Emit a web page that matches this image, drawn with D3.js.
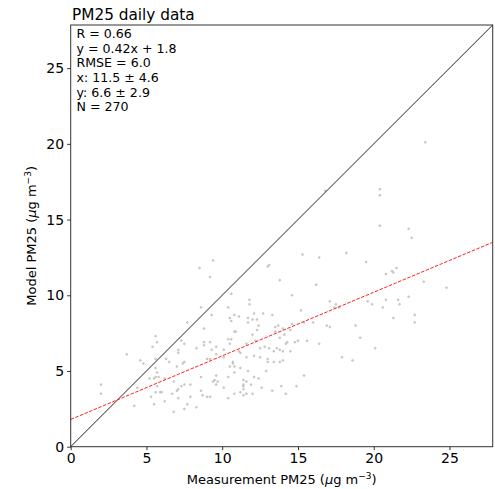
<!DOCTYPE html>
<html>
<head>
<meta charset="utf-8">
<script src="https://cdn.jsdelivr.net/npm/d3@7"></script>
<style>
  body { margin: 0; background: #fff; }
  text { font-family: "DejaVu Sans", sans-serif; fill: #000; }
</style>
</head>
<body>
<svg id="chart" width="495" height="489"></svg>
<script>
var measX = [23.4,20.4,20.4,20.4,22.3,22.5,19.5,21.5,21.2,21.3,20.8,23.3,24.8,22.3,20.8,21.6,
  9.4,8.5,9.2,13.1,13.0,15.3,16.4,18.2,13.8,16.2,10.6,16.8,
  17.1,17.5,17.4,17.7,19.6,19.9,21.7,20.6,21.3,22.7,22.7,16.9,17.1,18.8,19.1,20.1,17.9,18.6,
  14.6,15.2,14.6,15.4,16.0,14.0,14.5,13.5,14.1,13.8,15.0,14.8,15.6,14.3,14.2,16.4,13.8,14.0,14.5,13.8,14.0,15.4,13.9,14.9,14.2,
  8.6,11.8,11.8,10.4,9.3,7.7,10.8,11.1,10.5,10.6,12.1,12.7,11.7,12.0,12.3,11.7,12.4,13.3,8.8,10.8,10.9,13.5,13.7,12.0,12.3,
  10.4,10.6,10.5,11.6,12.2,8.8,9.2,9.6,8.8,9.3,8.3,10.1,11.1,11.2,12.5,12.8,13.1,13.6,13.4,11.6,12.1,12.5,13.0,13.4,13.0,
  9.6,9.0,9.2,10.1,10.7,10.7,10.8,10.5,10.4,9.6,9.5,9.7,9.4,9.6,8.6,8.6,7.9,10.8,11.2,11.4,11.7,11.6,11.9,12.1,12.4,12.6,
  13.3,11.4,11.4,12.9,7.9,8.7,9.0,9.2,10.8,11.2,11.6,12.0,10.4,8.3,11.4,10.1,11.4,
  5.6,5.7,5.4,3.7,7.3,7.5,7.1,7.1,5.6,4.6,4.8,6.3,6.5,7.4,7.5,5.6,5.7,5.6,5.5,5.2,5.8,6.2,7.0,6.8,7.3,7.5,7.1,4.4,5.7,
  5.9,5.6,6.0,5.3,6.7,7.0,2.0,2.0,6.2,7.1,7.7,5.5,6.8,7.5,4.2];
var modelY = [20.1,17.0,16.6,14.6,14.4,13.8,12.2,11.8,11.6,11.5,11.4,10.9,10.5,9.9,9.7,9.7,
  12.3,11.8,11.2,12.0,11.9,12.7,12.5,12.8,11.0,10.7,10.1,16.9,
  9.6,9.4,9.2,9.2,9.6,9.4,9.4,9.2,8.5,8.7,8.2,8.0,7.9,8.0,7.2,6.5,5.9,5.7,
  10.0,9.0,8.1,8.2,8.2,7.8,7.7,7.6,7.4,7.2,7.0,6.9,7.0,6.9,6.8,6.8,6.4,6.3,6.3,5.6,5.7,4.7,4.0,4.0,3.5,
  9.2,9.7,9.4,9.2,8.7,8.2,8.7,8.6,8.5,8.3,8.8,8.8,8.5,8.4,8.4,8.2,8.0,8.7,7.8,7.6,7.6,7.9,8.0,7.4,7.7,
  7.1,7.1,6.8,6.8,7.0,6.9,6.9,6.6,6.7,6.4,6.5,6.4,6.3,6.2,6.5,6.6,6.5,6.5,6.3,5.9,6.0,5.9,5.8,5.6,5.6,
  6.1,5.8,5.8,5.9,5.6,5.5,5.3,5.3,4.6,4.7,4.4,4.3,4.3,4.1,4.6,3.7,4.1,4.9,5.2,4.4,5.0,4.3,4.1,4.6,4.5,3.9,
  3.7,4.1,4.0,5.0,3.3,3.4,3.3,3.3,3.5,3.6,3.5,3.5,3.2,2.6,3.8,3.9,3.4,
  7.3,6.9,6.6,6.1,7.0,6.8,6.4,6.2,5.8,5.7,5.5,5.8,5.6,5.5,5.6,5.2,4.9,4.6,4.5,4.5,4.6,4.5,5.3,4.3,4.0,4.1,3.8,3.9,4.0,
  3.6,3.6,3.6,3.3,3.5,3.7,4.1,3.5,3.0,3.2,2.8,2.8,2.3,2.5,2.7];

// fit + summary text
var fitSlope = 0.42, fitIntercept = 1.8;
var statLines = ["R = 0.66", "y = 0.42x + 1.8", "RMSE = 6.0", "x: 11.5 \u00b1 4.6", "y: 6.6 \u00b1 2.9", "N = 270"];
var tickVals = [0, 5, 10, 15, 20, 25];
var axMax = 27.85;

var svg = d3.select("#chart");
var pLeft = 70.7, pRight = 492.7, pTop = 25, pBottom = 446.7;

var x = d3.scaleLinear().domain([0, axMax]).range([pLeft, pRight]);
var y = d3.scaleLinear().domain([0, axMax]).range([pBottom, pTop]);

var plot = svg.append("g");

// points
var pts = measX.map(function(v, i) { return [v, modelY[i]]; });
plot.selectAll("circle")
  .data(pts)
  .enter()
  .append("circle")
    .attr("cx", function(d) { return x(d[0]); })
    .attr("cy", function(d) { return y(d[1]); })
    .attr("r", 1.0)
    .attr("fill", "#cfcfcf")
    .attr("stroke", "#a8a8a8")
    .attr("stroke-width", 0.4);

// 1:1 line
plot.append("line")
  .attr("x1", x(0)).attr("y1", y(0))
  .attr("x2", x(axMax)).attr("y2", y(axMax))
  .attr("stroke", "#222")
  .attr("stroke-width", 1);

// regression line
plot.append("line")
  .attr("x1", x(0)).attr("y1", y(fitIntercept))
  .attr("x2", x(axMax)).attr("y2", y(fitSlope * axMax + fitIntercept))
  .attr("stroke", "#ff2020")
  .attr("stroke-width", 1)
  .attr("stroke-dasharray", "3.5,1.5");

// axes
var xAxis = d3.axisBottom(x).tickValues(tickVals).tickSize(3.5).tickPadding(3);
var yAxis = d3.axisLeft(y).tickValues(tickVals).tickSize(3.5).tickPadding(3);

svg.append("g")
  .attr("transform", "translate(0," + pBottom + ")")
  .call(xAxis)
  .call(function(g) { g.select(".domain").remove(); })
  .selectAll("text").style("font-size", "14px").style("font-family", "DejaVu Sans");

svg.append("g")
  .attr("transform", "translate(" + pLeft + ",0)")
  .call(yAxis)
  .call(function(g) { g.select(".domain").remove(); })
  .selectAll("text").style("font-size", "14px").style("font-family", "DejaVu Sans");

svg.selectAll(".tick line").attr("stroke", "#333");

// frame
svg.append("rect")
  .attr("x", pLeft).attr("y", pTop)
  .attr("width", pRight - pLeft).attr("height", pBottom - pTop)
  .attr("fill", "none")
  .attr("stroke", "#333")
  .attr("stroke-width", 1);

// title
svg.append("text")
  .attr("x", 72).attr("y", 20)
  .style("font-size", "15.3px")
  .text("PM25 daily data");

// stats
svg.append("g").selectAll("text")
  .data(statLines)
  .enter()
  .append("text")
    .attr("x", 76.5)
    .attr("y", function(d, i) { return 38 + i * 14.65; })
    .style("font-size", "12.6px")
    .text(function(d) { return d; });

// axis labels
var xl = svg.append("text")
  .attr("x", (pLeft + pRight) / 2).attr("y", 484)
  .attr("text-anchor", "middle")
  .style("font-size", "13px");
xl.append("tspan").text("Measurement PM25 (");
xl.append("tspan").style("font-style", "italic").text("\u03bc");
xl.append("tspan").text("g m");
xl.append("tspan").attr("dy", -5.5).style("font-size", "9px").text("\u22123");
xl.append("tspan").attr("dy", 5.5).text(")");

var yl = svg.append("text")
  .attr("transform", "translate(36," + ((pTop + pBottom) / 2) + ") rotate(-90)")
  .attr("text-anchor", "middle")
  .style("font-size", "13px");
yl.append("tspan").text("Model PM25 (");
yl.append("tspan").style("font-style", "italic").text("\u03bc");
yl.append("tspan").text("g m");
yl.append("tspan").attr("dy", -5.5).style("font-size", "9px").text("\u22123");
yl.append("tspan").attr("dy", 5.5).text(")");
</script>
</body>
</html>
